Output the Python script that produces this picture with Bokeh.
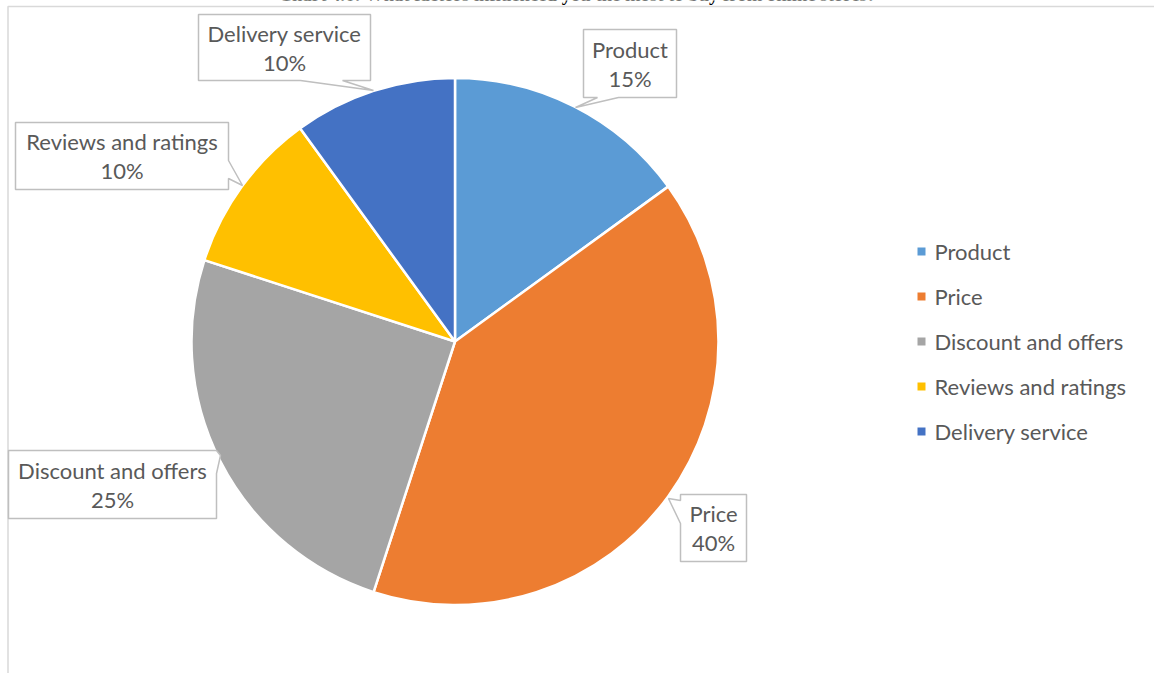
import numpy as np
from bokeh.plotting import figure
from bokeh.models import Range1d, ColumnDataSource
from bokeh.embed import file_html
from bokeh.resources import INLINE
from bokeh.core.properties import value

# ---- data ----
categories = ["Product", "Price", "Discount and offers", "Reviews and ratings", "Delivery service"]
values = [15, 40, 25, 10, 10]
colors = ["#5B9BD5", "#ED7D31", "#A5A5A5", "#FFC000", "#4472C4"]
title_text = "Chart 4.6: What factors influenced you the most to buy from online stores?"

W, H = 1154, 673
FONT = "Lato"
FS = "22px"
TXT = "#595959"

p = figure(width=W, height=H, x_range=Range1d(0, W), y_range=Range1d(-H, 0),
           output_backend="svg", toolbar_location=None, min_border=0,
           x_axis_location=None, y_axis_location=None)
p.grid.visible = False
p.outline_line_color = None
p.background_fill_color = "white"
p.border_fill_color = "white"

# chart area border
p.quad(left=[7.5], right=[W + 10], top=[-6], bottom=[-H - 10],
       fill_color=None, line_color="#d9d9d9", line_width=1.5)

# title (cut off at top, as in the reference)
p.text(x=[577], y=[6.5], text=[title_text], text_font=value("Liberation Serif"),
       text_font_style="bold", text_font_size="18.7px", text_align="center",
       text_baseline="alphabetic", text_color="black")

# pie
cx, cy, r = 454.5, 341.0, 263.5
vals = np.array(values, dtype=float)
frac = vals / vals.sum()
cum_end = np.cumsum(frac)
cum_start = cum_end - frac
src = ColumnDataSource(dict(
    cat=categories,
    start=np.pi / 2 - 2 * np.pi * cum_start,
    end=np.pi / 2 - 2 * np.pi * cum_end,
    color=colors,
))
p.wedge(x=cx, y=-cy, radius=r, start_angle="start", end_angle="end",
        direction="clock", fill_color="color", line_color="white",
        line_width=2.5, source=src)

# callout boxes (layout, pixel coordinates): box (l, t, r, b) and outline polygon
boxes = [
    (583, 29, 676, 97),
    (680, 494, 746, 561),
    (8, 450, 216, 518),
    (15, 122, 228, 189),
    (198, 14, 370, 80),
]
outlines = [
    [(583, 29), (676, 29), (676, 97), (618, 97), (575, 107), (597, 97), (583, 97)],
    [(680, 494), (746, 494), (746, 561), (680, 561), (680, 523), (668, 498), (680, 500)],
    [(8, 450), (216, 450), (220, 455), (216, 473), (216, 518), (8, 518)],
    [(15, 122), (228, 122), (228, 160), (242, 185), (228, 178), (228, 189), (15, 189)],
    [(198, 14), (370, 14), (370, 80), (342, 80), (373, 90), (300, 80), (198, 80)],
]
p.patches(xs=[[pt[0] for pt in o] for o in outlines],
          ys=[[-pt[1] for pt in o] for o in outlines],
          fill_color="white", line_color="#bfbfbf", line_width=1.5)

name_x, name_y, pct_y, pct_txt = [], [], [], []
for (l, t, rr, b), v in zip(boxes, values):
    mx, my = (l + rr) / 2, (t + b) / 2
    name_x.append(mx)
    name_y.append(-(my - 14.5))
    pct_y.append(-(my + 14.5))
    pct_txt.append(f"{v}%")
p.text(x=name_x, y=name_y, text=categories, text_font=value(FONT), text_font_size=FS,
       text_align="center", text_baseline="middle", text_color=TXT)
p.text(x=name_x, y=pct_y, text=pct_txt, text_font=value(FONT), text_font_size=FS,
       text_align="center", text_baseline="middle", text_color=TXT)

# legend
leg_y = [-(251 + 45 * i) for i in range(len(categories))]
p.scatter(x=[921] * len(categories), y=leg_y, marker="square", size=8,
          fill_color=colors, line_color=None)
p.text(x=[934] * len(categories), y=leg_y, text=categories, text_font=value(FONT),
       text_font_size=FS, text_align="left", text_baseline="middle", text_color=TXT)

open("out.html", "w").write(file_html(p, INLINE))
